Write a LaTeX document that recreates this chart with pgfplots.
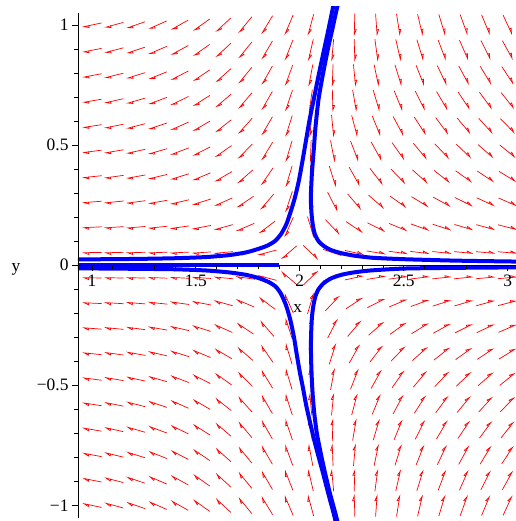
\documentclass[border=0pt]{standalone}
\usepackage{fontspec}
\setmainfont{Liberation Serif}
\usepackage{pgfplots}
\usepackage{pgfplotstable}
\pgfplotsset{compat=1.18}
\usetikzlibrary{arrows.meta}

% direction field: grid point (x,y) and field components (U,V), unnormalised
\pgfplotstableread{
x y U V
1.0000 1.0000 -80.75 -14.82
1.1053 1.0000 -76.54 -18.11
1.2105 1.0000 -71.91 -21.72
1.3158 1.0000 -66.86 -25.65
1.4211 1.0000 -61.38 -29.93
1.5263 1.0000 -55.49 -34.52
1.6316 1.0000 -49.17 -39.44
1.7368 1.0000 -42.43 -44.71
1.8421 1.0000 -35.28 -50.29
1.9474 1.0000 -27.70 -56.20
2.0526 1.0000 -19.70 -62.43
2.1579 1.0000 -11.28 -69.01
2.2632 1.0000 -2.43 -75.91
2.3684 1.0000 6.83 -83.13
2.4737 1.0000 16.51 -90.69
2.5789 1.0000 26.62 -98.57
2.6842 1.0000 37.14 -106.78
2.7895 1.0000 48.09 -115.31
2.8947 1.0000 59.46 -124.18
3.0000 1.0000 71.25 -133.38
1.0000 0.8947 -76.01 -13.26
1.1053 0.8947 -71.80 -16.20
1.2105 0.8947 -67.17 -19.43
1.3158 0.8947 -62.12 -22.95
1.4211 0.8947 -56.64 -26.78
1.5263 0.8947 -50.75 -30.89
1.6316 0.8947 -44.43 -35.29
1.7368 0.8947 -37.69 -40.00
1.8421 0.8947 -30.54 -45.00
1.9474 0.8947 -22.96 -50.29
2.0526 0.8947 -14.96 -55.86
2.1579 0.8947 -6.54 -61.74
2.2632 0.8947 2.31 -67.92
2.3684 0.8947 11.57 -74.38
2.4737 0.8947 21.25 -81.14
2.5789 0.8947 31.36 -88.20
2.6842 0.8947 41.88 -95.54
2.7895 0.8947 52.83 -103.17
2.8947 0.8947 64.20 -111.11
3.0000 0.8947 75.99 -119.34
1.0000 0.7895 -71.80 -11.70
1.1053 0.7895 -67.59 -14.30
1.2105 0.7895 -62.96 -17.15
1.3158 0.7895 -57.91 -20.25
1.4211 0.7895 -52.43 -23.63
1.5263 0.7895 -46.54 -27.26
1.6316 0.7895 -40.22 -31.14
1.7368 0.7895 -33.48 -35.30
1.8421 0.7895 -26.33 -39.71
1.9474 0.7895 -18.75 -44.37
2.0526 0.7895 -10.75 -49.29
2.1579 0.7895 -2.33 -54.48
2.2632 0.7895 6.52 -59.93
2.3684 0.7895 15.78 -65.63
2.4737 0.7895 25.46 -71.60
2.5789 0.7895 35.57 -77.82
2.6842 0.7895 46.09 -84.30
2.7895 0.7895 57.04 -91.04
2.8947 0.7895 68.41 -98.04
3.0000 0.7895 80.20 -105.30
1.0000 0.6842 -68.12 -10.14
1.1053 0.6842 -63.91 -12.39
1.2105 0.6842 -59.28 -14.86
1.3158 0.6842 -54.23 -17.55
1.4211 0.6842 -48.75 -20.48
1.5263 0.6842 -42.86 -23.62
1.6316 0.6842 -36.54 -26.99
1.7368 0.6842 -29.80 -30.59
1.8421 0.6842 -22.65 -34.41
1.9474 0.6842 -15.07 -38.45
2.0526 0.6842 -7.07 -42.72
2.1579 0.6842 1.35 -47.22
2.2632 0.6842 10.20 -51.94
2.3684 0.6842 19.46 -56.88
2.4737 0.6842 29.14 -62.05
2.5789 0.6842 39.25 -67.44
2.6842 0.6842 49.77 -73.06
2.7895 0.6842 60.72 -78.90
2.8947 0.6842 72.09 -84.97
3.0000 0.6842 83.88 -91.26
1.0000 0.5789 -64.96 -8.58
1.1053 0.5789 -60.75 -10.48
1.2105 0.5789 -56.12 -12.57
1.3158 0.5789 -51.07 -14.85
1.4211 0.5789 -45.59 -17.33
1.5263 0.5789 -39.70 -19.99
1.6316 0.5789 -33.38 -22.84
1.7368 0.5789 -26.64 -25.88
1.8421 0.5789 -19.49 -29.12
1.9474 0.5789 -11.91 -32.54
2.0526 0.5789 -3.91 -36.15
2.1579 0.5789 4.51 -39.95
2.2632 0.5789 13.36 -43.95
2.3684 0.5789 22.62 -48.13
2.4737 0.5789 32.30 -52.50
2.5789 0.5789 42.41 -57.07
2.6842 0.5789 52.93 -61.82
2.7895 0.5789 63.88 -66.76
2.8947 0.5789 75.25 -71.90
3.0000 0.5789 87.04 -77.22
1.0000 0.4737 -62.33 -7.02
1.1053 0.4737 -58.12 -8.58
1.2105 0.4737 -53.49 -10.29
1.3158 0.4737 -48.44 -12.15
1.4211 0.4737 -42.96 -14.18
1.5263 0.4737 -37.07 -16.35
1.6316 0.4737 -30.75 -18.68
1.7368 0.4737 -24.01 -21.18
1.8421 0.4737 -16.86 -23.82
1.9474 0.4737 -9.28 -26.62
2.0526 0.4737 -1.28 -29.57
2.1579 0.4737 7.14 -32.69
2.2632 0.4737 15.99 -35.96
2.3684 0.4737 25.25 -39.38
2.4737 0.4737 34.93 -42.96
2.5789 0.4737 45.04 -46.69
2.6842 0.4737 55.56 -50.58
2.7895 0.4737 66.51 -54.62
2.8947 0.4737 77.88 -58.82
3.0000 0.4737 89.67 -63.18
1.0000 0.3684 -60.22 -5.46
1.1053 0.3684 -56.01 -6.67
1.2105 0.3684 -51.38 -8.00
1.3158 0.3684 -46.33 -9.45
1.4211 0.3684 -40.85 -11.03
1.5263 0.3684 -34.96 -12.72
1.6316 0.3684 -28.64 -14.53
1.7368 0.3684 -21.90 -16.47
1.8421 0.3684 -14.75 -18.53
1.9474 0.3684 -7.17 -20.71
2.0526 0.3684 0.83 -23.00
2.1579 0.3684 9.25 -25.42
2.2632 0.3684 18.10 -27.97
2.3684 0.3684 27.36 -30.63
2.4737 0.3684 37.04 -33.41
2.5789 0.3684 47.15 -36.32
2.6842 0.3684 57.67 -39.34
2.7895 0.3684 68.62 -42.48
2.8947 0.3684 79.99 -45.75
3.0000 0.3684 91.78 -49.14
1.0000 0.2632 -58.64 -3.90
1.1053 0.2632 -54.43 -4.77
1.2105 0.2632 -49.80 -5.72
1.3158 0.2632 -44.75 -6.75
1.4211 0.2632 -39.27 -7.88
1.5263 0.2632 -33.38 -9.09
1.6316 0.2632 -27.06 -10.38
1.7368 0.2632 -20.32 -11.77
1.8421 0.2632 -13.17 -13.24
1.9474 0.2632 -5.59 -14.79
2.0526 0.2632 2.41 -16.43
2.1579 0.2632 10.83 -18.16
2.2632 0.2632 19.68 -19.98
2.3684 0.2632 28.94 -21.88
2.4737 0.2632 38.62 -23.87
2.5789 0.2632 48.73 -25.94
2.6842 0.2632 59.25 -28.10
2.7895 0.2632 70.20 -30.35
2.8947 0.2632 81.57 -32.68
3.0000 0.2632 93.36 -35.10
1.0000 0.1579 -57.59 -2.34
1.1053 0.1579 -53.38 -2.86
1.2105 0.1579 -48.75 -3.43
1.3158 0.1579 -43.70 -4.05
1.4211 0.1579 -38.22 -4.73
1.5263 0.1579 -32.33 -5.45
1.6316 0.1579 -26.01 -6.23
1.7368 0.1579 -19.27 -7.06
1.8421 0.1579 -12.12 -7.94
1.9474 0.1579 -4.54 -8.87
2.0526 0.1579 3.46 -9.86
2.1579 0.1579 11.88 -10.90
2.2632 0.1579 20.73 -11.99
2.3684 0.1579 29.99 -13.13
2.4737 0.1579 39.67 -14.32
2.5789 0.1579 49.78 -15.56
2.6842 0.1579 60.30 -16.86
2.7895 0.1579 71.25 -18.21
2.8947 0.1579 82.62 -19.61
3.0000 0.1579 94.41 -21.06
1.0000 0.0526 -57.07 -0.78
1.1053 0.0526 -52.86 -0.95
1.2105 0.0526 -48.23 -1.14
1.3158 0.0526 -43.18 -1.35
1.4211 0.0526 -37.70 -1.58
1.5263 0.0526 -31.81 -1.82
1.6316 0.0526 -25.49 -2.08
1.7368 0.0526 -18.75 -2.35
1.8421 0.0526 -11.60 -2.65
1.9474 0.0526 -4.02 -2.96
2.0526 0.0526 3.98 -3.29
2.1579 0.0526 12.40 -3.63
2.2632 0.0526 21.25 -4.00
2.3684 0.0526 30.51 -4.38
2.4737 0.0526 40.19 -4.77
2.5789 0.0526 50.30 -5.19
2.6842 0.0526 60.82 -5.62
2.7895 0.0526 71.77 -6.07
2.8947 0.0526 83.14 -6.54
3.0000 0.0526 94.93 -7.02
1.0000 -0.0526 -57.07 0.78
1.1053 -0.0526 -52.86 0.95
1.2105 -0.0526 -48.23 1.14
1.3158 -0.0526 -43.18 1.35
1.4211 -0.0526 -37.70 1.58
1.5263 -0.0526 -31.81 1.82
1.6316 -0.0526 -25.49 2.08
1.7368 -0.0526 -18.75 2.35
1.8421 -0.0526 -11.60 2.65
1.9474 -0.0526 -4.02 2.96
2.0526 -0.0526 3.98 3.29
2.1579 -0.0526 12.40 3.63
2.2632 -0.0526 21.25 4.00
2.3684 -0.0526 30.51 4.38
2.4737 -0.0526 40.19 4.77
2.5789 -0.0526 50.30 5.19
2.6842 -0.0526 60.82 5.62
2.7895 -0.0526 71.77 6.07
2.8947 -0.0526 83.14 6.54
3.0000 -0.0526 94.93 7.02
1.0000 -0.1579 -57.59 2.34
1.1053 -0.1579 -53.38 2.86
1.2105 -0.1579 -48.75 3.43
1.3158 -0.1579 -43.70 4.05
1.4211 -0.1579 -38.22 4.73
1.5263 -0.1579 -32.33 5.45
1.6316 -0.1579 -26.01 6.23
1.7368 -0.1579 -19.27 7.06
1.8421 -0.1579 -12.12 7.94
1.9474 -0.1579 -4.54 8.87
2.0526 -0.1579 3.46 9.86
2.1579 -0.1579 11.88 10.90
2.2632 -0.1579 20.73 11.99
2.3684 -0.1579 29.99 13.13
2.4737 -0.1579 39.67 14.32
2.5789 -0.1579 49.78 15.56
2.6842 -0.1579 60.30 16.86
2.7895 -0.1579 71.25 18.21
2.8947 -0.1579 82.62 19.61
3.0000 -0.1579 94.41 21.06
1.0000 -0.2632 -58.64 3.90
1.1053 -0.2632 -54.43 4.77
1.2105 -0.2632 -49.80 5.72
1.3158 -0.2632 -44.75 6.75
1.4211 -0.2632 -39.27 7.88
1.5263 -0.2632 -33.38 9.09
1.6316 -0.2632 -27.06 10.38
1.7368 -0.2632 -20.32 11.77
1.8421 -0.2632 -13.17 13.24
1.9474 -0.2632 -5.59 14.79
2.0526 -0.2632 2.41 16.43
2.1579 -0.2632 10.83 18.16
2.2632 -0.2632 19.68 19.98
2.3684 -0.2632 28.94 21.88
2.4737 -0.2632 38.62 23.87
2.5789 -0.2632 48.73 25.94
2.6842 -0.2632 59.25 28.10
2.7895 -0.2632 70.20 30.35
2.8947 -0.2632 81.57 32.68
3.0000 -0.2632 93.36 35.10
1.0000 -0.3684 -60.22 5.46
1.1053 -0.3684 -56.01 6.67
1.2105 -0.3684 -51.38 8.00
1.3158 -0.3684 -46.33 9.45
1.4211 -0.3684 -40.85 11.03
1.5263 -0.3684 -34.96 12.72
1.6316 -0.3684 -28.64 14.53
1.7368 -0.3684 -21.90 16.47
1.8421 -0.3684 -14.75 18.53
1.9474 -0.3684 -7.17 20.71
2.0526 -0.3684 0.83 23.00
2.1579 -0.3684 9.25 25.42
2.2632 -0.3684 18.10 27.97
2.3684 -0.3684 27.36 30.63
2.4737 -0.3684 37.04 33.41
2.5789 -0.3684 47.15 36.32
2.6842 -0.3684 57.67 39.34
2.7895 -0.3684 68.62 42.48
2.8947 -0.3684 79.99 45.75
3.0000 -0.3684 91.78 49.14
1.0000 -0.4737 -62.33 7.02
1.1053 -0.4737 -58.12 8.58
1.2105 -0.4737 -53.49 10.29
1.3158 -0.4737 -48.44 12.15
1.4211 -0.4737 -42.96 14.18
1.5263 -0.4737 -37.07 16.35
1.6316 -0.4737 -30.75 18.68
1.7368 -0.4737 -24.01 21.18
1.8421 -0.4737 -16.86 23.82
1.9474 -0.4737 -9.28 26.62
2.0526 -0.4737 -1.28 29.57
2.1579 -0.4737 7.14 32.69
2.2632 -0.4737 15.99 35.96
2.3684 -0.4737 25.25 39.38
2.4737 -0.4737 34.93 42.96
2.5789 -0.4737 45.04 46.69
2.6842 -0.4737 55.56 50.58
2.7895 -0.4737 66.51 54.62
2.8947 -0.4737 77.88 58.82
3.0000 -0.4737 89.67 63.18
1.0000 -0.5789 -64.96 8.58
1.1053 -0.5789 -60.75 10.48
1.2105 -0.5789 -56.12 12.57
1.3158 -0.5789 -51.07 14.85
1.4211 -0.5789 -45.59 17.33
1.5263 -0.5789 -39.70 19.99
1.6316 -0.5789 -33.38 22.84
1.7368 -0.5789 -26.64 25.88
1.8421 -0.5789 -19.49 29.12
1.9474 -0.5789 -11.91 32.54
2.0526 -0.5789 -3.91 36.15
2.1579 -0.5789 4.51 39.95
2.2632 -0.5789 13.36 43.95
2.3684 -0.5789 22.62 48.13
2.4737 -0.5789 32.30 52.50
2.5789 -0.5789 42.41 57.07
2.6842 -0.5789 52.93 61.82
2.7895 -0.5789 63.88 66.76
2.8947 -0.5789 75.25 71.90
3.0000 -0.5789 87.04 77.22
1.0000 -0.6842 -68.12 10.14
1.1053 -0.6842 -63.91 12.39
1.2105 -0.6842 -59.28 14.86
1.3158 -0.6842 -54.23 17.55
1.4211 -0.6842 -48.75 20.48
1.5263 -0.6842 -42.86 23.62
1.6316 -0.6842 -36.54 26.99
1.7368 -0.6842 -29.80 30.59
1.8421 -0.6842 -22.65 34.41
1.9474 -0.6842 -15.07 38.45
2.0526 -0.6842 -7.07 42.72
2.1579 -0.6842 1.35 47.22
2.2632 -0.6842 10.20 51.94
2.3684 -0.6842 19.46 56.88
2.4737 -0.6842 29.14 62.05
2.5789 -0.6842 39.25 67.44
2.6842 -0.6842 49.77 73.06
2.7895 -0.6842 60.72 78.90
2.8947 -0.6842 72.09 84.97
3.0000 -0.6842 83.88 91.26
1.0000 -0.7895 -71.80 11.70
1.1053 -0.7895 -67.59 14.30
1.2105 -0.7895 -62.96 17.15
1.3158 -0.7895 -57.91 20.25
1.4211 -0.7895 -52.43 23.63
1.5263 -0.7895 -46.54 27.26
1.6316 -0.7895 -40.22 31.14
1.7368 -0.7895 -33.48 35.30
1.8421 -0.7895 -26.33 39.71
1.9474 -0.7895 -18.75 44.37
2.0526 -0.7895 -10.75 49.29
2.1579 -0.7895 -2.33 54.48
2.2632 -0.7895 6.52 59.93
2.3684 -0.7895 15.78 65.63
2.4737 -0.7895 25.46 71.60
2.5789 -0.7895 35.57 77.82
2.6842 -0.7895 46.09 84.30
2.7895 -0.7895 57.04 91.04
2.8947 -0.7895 68.41 98.04
3.0000 -0.7895 80.20 105.30
1.0000 -0.8947 -76.01 13.26
1.1053 -0.8947 -71.80 16.20
1.2105 -0.8947 -67.17 19.43
1.3158 -0.8947 -62.12 22.95
1.4211 -0.8947 -56.64 26.78
1.5263 -0.8947 -50.75 30.89
1.6316 -0.8947 -44.43 35.29
1.7368 -0.8947 -37.69 40.00
1.8421 -0.8947 -30.54 45.00
1.9474 -0.8947 -22.96 50.29
2.0526 -0.8947 -14.96 55.86
2.1579 -0.8947 -6.54 61.74
2.2632 -0.8947 2.31 67.92
2.3684 -0.8947 11.57 74.38
2.4737 -0.8947 21.25 81.14
2.5789 -0.8947 31.36 88.20
2.6842 -0.8947 41.88 95.54
2.7895 -0.8947 52.83 103.17
2.8947 -0.8947 64.20 111.11
3.0000 -0.8947 75.99 119.34
1.0000 -1.0000 -80.75 14.82
1.1053 -1.0000 -76.54 18.11
1.2105 -1.0000 -71.91 21.72
1.3158 -1.0000 -66.86 25.65
1.4211 -1.0000 -61.38 29.93
1.5263 -1.0000 -55.49 34.52
1.6316 -1.0000 -49.17 39.44
1.7368 -1.0000 -42.43 44.71
1.8421 -1.0000 -35.28 50.29
1.9474 -1.0000 -27.70 56.20
2.0526 -1.0000 -19.70 62.43
2.1579 -1.0000 -11.28 69.01
2.2632 -1.0000 -2.43 75.91
2.3684 -1.0000 6.83 83.13
2.4737 -1.0000 16.51 90.69
2.5789 -1.0000 26.62 98.57
2.6842 -1.0000 37.14 106.78
2.7895 -1.0000 48.09 115.31
2.8947 -1.0000 59.46 124.18
3.0000 -1.0000 71.25 133.38
}\field

\begin{document}
\begin{tikzpicture}
\begin{axis}[
  scale only axis, width=438bp, height=514bp,
  xmin=0.933, xmax=3.04, ymin=-1.065, ymax=1.075,
  axis x line=middle, axis y line=left,
  axis line style={-, black, line width=0.8bp},
  y axis line style={shorten <=3bp, shorten >=6bp},
  xtick={1,1.5,2,2.5,3}, xticklabels={1,1.5,2,2.5,3},
  ytick={-1,-0.5,0,0.5,1}, yticklabels={−1,−0.5,0,0.5,1},
  minor x tick num=4, minor y tick num=4,
  tick align=outside, major tick length=6bp, minor tick length=3.5bp,
  tick style={black, line width=0.8bp},
  ticklabel style={font=\fontsize{17.5}{20}\selectfont},
  axis on top, clip mode=individual,
]
\coordinate (sw) at (rel axis cs:0,0);
\coordinate (ne) at (rel axis cs:1,1);
% unit-length arrows centred on the grid points
\addplot[red, line width=0.7bp, -{Triangle[harpoon, open, length=6bp, width=4.5bp]},
  quiver={u={0.094*\thisrow{U}/veclen(\thisrow{U},\thisrow{V})},
          v={0.094*\thisrow{V}/veclen(\thisrow{U},\thisrow{V})}}]
  table[x expr={\thisrow{x}-0.047*\thisrow{U}/veclen(\thisrow{U},\thisrow{V})},
        y expr={\thisrow{y}-0.047*\thisrow{V}/veclen(\thisrow{U},\thisrow{V})}] {\field};
% solution curves
\begin{scope}[every path/.style={}]
\end{scope}
\addplot[blue, line width=4bp, smooth, tension=0.4, line cap=round] coordinates {
(0.93,0.024) (1.2,0.026) (1.4,0.029) (1.55,0.034) (1.66,0.042) (1.74,0.053)
(1.79,0.065) (1.84,0.08) (1.88,0.1) (1.91,0.13) (1.935,0.17) (1.955,0.22)
(1.976,0.28) (1.995,0.35) (2.012,0.43) (2.03,0.52) (2.048,0.61) (2.067,0.69)
(2.088,0.78) (2.11,0.87) (2.135,0.97) (2.16,1.075) (2.165,1.1)};
\addplot[blue, line width=4bp, smooth, tension=0.4] coordinates {
(2.19,1.1) (2.18,1.075) (2.157,0.985) (2.135,0.9) (2.11,0.79) (2.09,0.69)
(2.076,0.58) (2.067,0.48) (2.058,0.38) (2.053,0.28) (2.056,0.22) (2.062,0.17)
(2.072,0.13) (2.09,0.1) (2.115,0.08) (2.15,0.063) (2.2,0.05) (2.26,0.04)
(2.35,0.031) (2.5,0.025) (2.75,0.019) (3.05,0.015)};
\addplot[blue, line width=4bp, smooth, tension=0.4] coordinates {
(0.93,-0.013) (1.2,-0.015) (1.4,-0.017) (1.55,-0.022) (1.66,-0.03) (1.74,-0.04)
(1.8,-0.053) (1.85,-0.07) (1.885,-0.09) (1.91,-0.12) (1.935,-0.17) (1.955,-0.23)
(1.972,-0.3) (1.985,-0.37) (2.0,-0.445) (2.015,-0.51) (2.03,-0.58) (2.048,-0.65)
(2.067,-0.72) (2.088,-0.79) (2.11,-0.86) (2.14,-0.96) (2.165,-1.04) (2.175,-1.08)};
\addplot[blue, line width=4bp, smooth, tension=0.4] coordinates {
(3.05,-0.009) (2.75,-0.011) (2.5,-0.014) (2.34,-0.022) (2.26,-0.03) (2.2,-0.04)
(2.15,-0.055) (2.115,-0.075) (2.09,-0.1) (2.075,-0.13) (2.065,-0.17) (2.058,-0.22)
(2.054,-0.3) (2.054,-0.38) (2.057,-0.46) (2.062,-0.54) (2.07,-0.62) (2.082,-0.7)
(2.1,-0.78) (2.12,-0.86) (2.145,-0.95) (2.17,-1.03) (2.185,-1.08)};
\addplot[blue, line width=4bp] coordinates {(0.93,0) (1.9,0)};
\node[font=\fontsize{17.5}{20}\selectfont, anchor=base] at (axis cs:1.99,0) [yshift=-47bp] {x};
\node[font=\fontsize{17.5}{20}\selectfont, anchor=base] at (axis cs:0.933,0) [xshift=-62bp, yshift=-6bp] {y};
\end{axis}
\pgfresetboundingbox
\path (sw) ++(-78bp,0) rectangle ([yshift=7bp]ne);
\end{tikzpicture}
\end{document}
